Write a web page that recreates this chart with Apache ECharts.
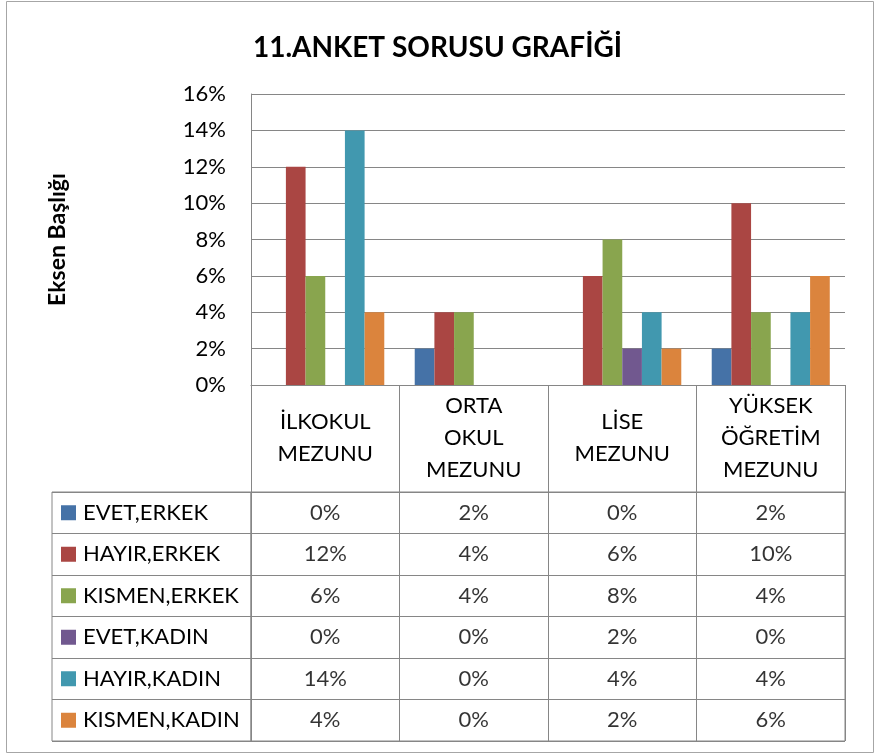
<!DOCTYPE html>
<html>
<head>
<meta charset="utf-8">
<style>
    html, body { margin: 0; padding: 0; background: #fff; }
    #main { width: 875px; height: 754px; }
</style>
<script src="https://cdn.jsdelivr.net/npm/echarts@6/dist/echarts.min.js"></script>
</head>
<body>
<div id="main"></div>
<script type="text/javascript">
    // veriler
    var categories = ['İLKOKUL\nMEZUNU', 'ORTA\nOKUL\nMEZUNU', 'LİSE\nMEZUNU', 'YÜKSEK\nÖĞRETİM\nMEZUNU'];
    var seriesNames = ['EVET,ERKEK', 'HAYIR,ERKEK', 'KISMEN,ERKEK', 'EVET,KADIN', 'HAYIR,KADIN', 'KISMEN,KADIN'];
    var evetErkek = [0, 2, 0, 2];
    var hayirErkek = [12, 4, 6, 10];
    var kismenErkek = [6, 4, 8, 4];
    var evetKadin = [0, 0, 2, 0];
    var hayirKadin = [14, 0, 4, 4];
    var kismenKadin = [4, 0, 2, 6];
    var yMin = 0, yMax = 16, yStep = 2;
    var colors = ['#4572A7', '#AA4643', '#89A54E', '#71588F', '#4198AF', '#DB843D'];

    var values = [evetErkek, hayirErkek, kismenErkek, evetKadin, hayirKadin, kismenKadin];
    var lineColor = '#868686';
    var font = 'Lato';

    var myChart = echarts.init(document.getElementById('main'));

    var barSeries = values.map(function (arr, i) {
        return {
            name: seriesNames[i],
            type: 'bar',
            xAxisIndex: 0,
            yAxisIndex: 0,
            data: arr,
            barGap: '0%',
            barCategoryGap: '20.5%',
            itemStyle: { color: colors[i] }
        };
    });

    // tablo hücreleri
    var cells = [];
    values.forEach(function (arr, i) {
        arr.forEach(function (v, j) {
            cells.push([j, i, v]);
        });
    });

    var rich = { t: { fontFamily: font, fontSize: 22, color: '#000', padding: [0, 0, 0, 7] } };
    colors.forEach(function (c, i) {
        rich['s' + i] = { backgroundColor: c, width: 15, height: 15 };
    });

    var option = {
        animation: false,
        textStyle: { fontFamily: font },
        title: {
            text: '11.ANKET SORUSU GRAFİĞİ',
            left: 'center',
            top: 27,
            textStyle: { fontFamily: font, fontSize: 28, fontWeight: 'bold', color: '#000', lineHeight: 32 }
        },
        graphic: [{
            type: 'rect',
            shape: { x: 6.5, y: 1.5, width: 867, height: 751 },
            style: { fill: 'none', stroke: '#a6a6a6', lineWidth: 1 },
            silent: true
        }],
        grid: [
            { left: 251, top: 94, width: 594, height: 291 },
            { left: 251, top: 492, width: 594, height: 249, show: true, borderColor: lineColor, borderWidth: 1 },
            { left: 52, top: 492, width: 199, height: 249, show: true, borderColor: lineColor, borderWidth: 1 }
        ],
        xAxis: [{
            type: 'category',
            gridIndex: 0,
            data: categories,
            axisLine: { lineStyle: { color: lineColor } },
            axisTick: { show: true, length: 107, interval: 0, lineStyle: { color: lineColor } },
            axisLabel: {
                interval: 0, margin: 53, verticalAlign: 'middle',
                fontFamily: font, fontSize: 22, lineHeight: 32, color: '#000'
            }
        }, {
            type: 'category',
            gridIndex: 1,
            data: categories,
            axisLine: { show: false },
            axisTick: { show: false },
            axisLabel: { show: false },
            splitLine: { show: true, interval: 0, lineStyle: { color: lineColor } }
        }, {
            type: 'category',
            gridIndex: 2,
            data: [''],
            axisLine: { show: false },
            axisTick: { show: false },
            axisLabel: { show: false }
        }],
        yAxis: [{
            type: 'value',
            gridIndex: 0,
            min: yMin,
            max: yMax,
            interval: yStep,
            name: 'Eksen Başlığı',
            nameLocation: 'middle',
            nameRotate: 90,
            nameGap: 182,
            nameTextStyle: { fontFamily: font, fontSize: 23, fontWeight: 'bold', color: '#000' },
            axisLine: { show: true, lineStyle: { color: lineColor } },
            axisTick: { show: false },
            axisLabel: { margin: 25, fontFamily: font, fontSize: 22, color: '#000', formatter: '{value}%' },
            splitLine: { lineStyle: { color: lineColor } }
        }, {
            type: 'category',
            gridIndex: 1,
            inverse: true,
            data: seriesNames,
            axisLine: { show: false },
            axisTick: { show: false },
            axisLabel: { show: false },
            splitLine: { show: true, interval: 0, lineStyle: { color: lineColor } }
        }, {
            type: 'category',
            gridIndex: 2,
            inverse: true,
            data: seriesNames,
            axisLine: { show: false },
            axisTick: { show: false },
            axisLabel: {
                inside: true, margin: 9, interval: 0,
                formatter: function (value, index) {
                    return '{s' + index + '|}{t|' + value + '}';
                },
                rich: rich
            },
            splitLine: { show: true, interval: 0, lineStyle: { color: lineColor } }
        }],
        series: barSeries.concat([{
            type: 'scatter',
            xAxisIndex: 1,
            yAxisIndex: 1,
            symbolSize: 0,
            data: cells,
            label: {
                show: true,
                position: 'inside',
                fontFamily: font,
                fontSize: 22,
                color: '#000',
                formatter: function (p) { return p.value[2] + '%'; }
            }
        }])
    };

    myChart.setOption(option);
</script>
</body>
</html>
